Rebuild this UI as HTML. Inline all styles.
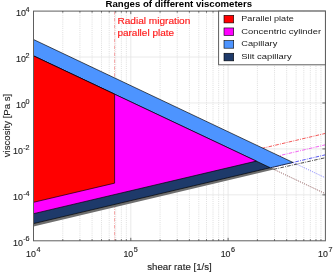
<!DOCTYPE html><html><head><meta charset="utf-8"><style>html,body{margin:0;padding:0;background:#fff}svg{display:block;will-change:transform;filter:blur(0.35px)}text{font-family:"Liberation Sans",sans-serif}</style></head><body>
<svg width="335" height="275" viewBox="0 0 335 275">
<rect width="335" height="275" fill="#fff"/>
<g stroke="#d0d0d0" stroke-width="0.8" stroke-dasharray="0.8 1.1"><line x1="62.79" y1="11.1" x2="62.79" y2="240.8"/><line x1="79.92" y1="11.1" x2="79.92" y2="240.8"/><line x1="92.08" y1="11.1" x2="92.08" y2="240.8"/><line x1="101.51" y1="11.1" x2="101.51" y2="240.8"/><line x1="109.21" y1="11.1" x2="109.21" y2="240.8"/><line x1="115.73" y1="11.1" x2="115.73" y2="240.8"/><line x1="121.37" y1="11.1" x2="121.37" y2="240.8"/><line x1="126.35" y1="11.1" x2="126.35" y2="240.8"/><line x1="160.09" y1="11.1" x2="160.09" y2="240.8"/><line x1="177.22" y1="11.1" x2="177.22" y2="240.8"/><line x1="189.38" y1="11.1" x2="189.38" y2="240.8"/><line x1="198.81" y1="11.1" x2="198.81" y2="240.8"/><line x1="206.51" y1="11.1" x2="206.51" y2="240.8"/><line x1="213.03" y1="11.1" x2="213.03" y2="240.8"/><line x1="218.67" y1="11.1" x2="218.67" y2="240.8"/><line x1="223.65" y1="11.1" x2="223.65" y2="240.8"/><line x1="257.39" y1="11.1" x2="257.39" y2="240.8"/><line x1="274.52" y1="11.1" x2="274.52" y2="240.8"/><line x1="286.68" y1="11.1" x2="286.68" y2="240.8"/><line x1="296.11" y1="11.1" x2="296.11" y2="240.8"/><line x1="303.81" y1="11.1" x2="303.81" y2="240.8"/><line x1="310.33" y1="11.1" x2="310.33" y2="240.8"/><line x1="315.97" y1="11.1" x2="315.97" y2="240.8"/><line x1="320.95" y1="11.1" x2="320.95" y2="240.8"/></g>
<g stroke="#e4e4e4" stroke-width="0.8"><line x1="130.80" y1="11.1" x2="130.80" y2="240.8"/><line x1="228.10" y1="11.1" x2="228.10" y2="240.8"/><line x1="33.5" y1="57.04" x2="325.4" y2="57.04"/><line x1="33.5" y1="102.98" x2="325.4" y2="102.98"/><line x1="33.5" y1="148.92" x2="325.4" y2="148.92"/><line x1="33.5" y1="194.86" x2="325.4" y2="194.86"/></g>
<line x1="114.6" y1="11.1" x2="114.6" y2="240.8" stroke="#f08a8a" stroke-width="0.8" stroke-dasharray="3.5 1.3 0.8 1.3"/>
<line x1="292.98" y1="162.44" x2="325.4" y2="177.80" stroke="#4040ff" stroke-opacity="0.9" stroke-width="0.85" stroke-dasharray="0.8 1.3"/>
<line x1="273.68" y1="169.30" x2="325.4" y2="193.72" stroke="#d03030" stroke-opacity="0.6" stroke-width="0.75" stroke-dasharray="0.8 1.3"/>
<line x1="273.68" y1="169.30" x2="325.4" y2="193.72" stroke="#111" stroke-opacity="0.65" stroke-width="0.75" stroke-dasharray="0.8 1.3"/>
<line x1="33.5" y1="202.3" x2="325.4" y2="133.39" stroke="#f03030" stroke-width="0.95" stroke-opacity="0.85" stroke-dasharray="3.6 1.2 0.9 1.2"/>
<line x1="33.5" y1="213.7" x2="325.4" y2="144.79" stroke="#f040f0" stroke-width="0.95" stroke-opacity="0.85" stroke-dasharray="3.6 1.2 0.9 1.2"/>
<line x1="33.5" y1="223.7" x2="325.4" y2="154.79" stroke="#3030f0" stroke-width="0.95" stroke-opacity="0.85" stroke-dasharray="3.6 1.2 0.9 1.2"/>
<polygon points="33.5,222.6 270.29,167.20 274.68,169.10 273.68,169.60 33.5,226.5" fill="#6f6f6f"/>
<line x1="273.68" y1="169.30" x2="325.4" y2="157.7" stroke="#222" stroke-width="0.95" stroke-opacity="0.85" stroke-dasharray="3.6 1.2 0.9 1.2"/>
<polygon points="33.5,55.9 270.29,167.70 33.5,223.6" fill="#1e3a6a" stroke="#000" stroke-opacity="0.95" stroke-width="0.7" stroke-linejoin="round"/>
<polygon points="33.5,39.5 292.98,162.44 270.43,167.77 33.5,55.9" fill="#4d94ff" stroke="#000" stroke-opacity="0.95" stroke-width="0.7" stroke-linejoin="round"/>
<polygon points="33.5,55.9 256.31,161.10 33.5,213.7" fill="#ff00ff" stroke="#000" stroke-opacity="0.95" stroke-width="0.7" stroke-linejoin="round"/>
<polygon points="33.5,55.9 114.6,94.19 114.6,183.15 33.5,202.3" fill="#ff0000" stroke="#000" stroke-opacity="0.95" stroke-width="0.7" stroke-linejoin="round"/>
<rect x="33.5" y="11.1" width="291.9" height="229.70000000000002" fill="none" stroke="#5e5e5e" stroke-width="1"/>
<g stroke="#444" stroke-width="0.8"><line x1="62.79" y1="240.8" x2="62.79" y2="239.20000000000002"/><line x1="62.79" y1="11.1" x2="62.79" y2="12.7"/><line x1="79.92" y1="240.8" x2="79.92" y2="239.20000000000002"/><line x1="79.92" y1="11.1" x2="79.92" y2="12.7"/><line x1="92.08" y1="240.8" x2="92.08" y2="239.20000000000002"/><line x1="92.08" y1="11.1" x2="92.08" y2="12.7"/><line x1="101.51" y1="240.8" x2="101.51" y2="239.20000000000002"/><line x1="101.51" y1="11.1" x2="101.51" y2="12.7"/><line x1="109.21" y1="240.8" x2="109.21" y2="239.20000000000002"/><line x1="109.21" y1="11.1" x2="109.21" y2="12.7"/><line x1="115.73" y1="240.8" x2="115.73" y2="239.20000000000002"/><line x1="115.73" y1="11.1" x2="115.73" y2="12.7"/><line x1="121.37" y1="240.8" x2="121.37" y2="239.20000000000002"/><line x1="121.37" y1="11.1" x2="121.37" y2="12.7"/><line x1="126.35" y1="240.8" x2="126.35" y2="239.20000000000002"/><line x1="126.35" y1="11.1" x2="126.35" y2="12.7"/><line x1="130.80" y1="240.8" x2="130.80" y2="237.8"/><line x1="130.80" y1="11.1" x2="130.80" y2="14.1"/><line x1="160.09" y1="240.8" x2="160.09" y2="239.20000000000002"/><line x1="160.09" y1="11.1" x2="160.09" y2="12.7"/><line x1="177.22" y1="240.8" x2="177.22" y2="239.20000000000002"/><line x1="177.22" y1="11.1" x2="177.22" y2="12.7"/><line x1="189.38" y1="240.8" x2="189.38" y2="239.20000000000002"/><line x1="189.38" y1="11.1" x2="189.38" y2="12.7"/><line x1="198.81" y1="240.8" x2="198.81" y2="239.20000000000002"/><line x1="198.81" y1="11.1" x2="198.81" y2="12.7"/><line x1="206.51" y1="240.8" x2="206.51" y2="239.20000000000002"/><line x1="206.51" y1="11.1" x2="206.51" y2="12.7"/><line x1="213.03" y1="240.8" x2="213.03" y2="239.20000000000002"/><line x1="213.03" y1="11.1" x2="213.03" y2="12.7"/><line x1="218.67" y1="240.8" x2="218.67" y2="239.20000000000002"/><line x1="218.67" y1="11.1" x2="218.67" y2="12.7"/><line x1="223.65" y1="240.8" x2="223.65" y2="239.20000000000002"/><line x1="223.65" y1="11.1" x2="223.65" y2="12.7"/><line x1="228.10" y1="240.8" x2="228.10" y2="237.8"/><line x1="228.10" y1="11.1" x2="228.10" y2="14.1"/><line x1="257.39" y1="240.8" x2="257.39" y2="239.20000000000002"/><line x1="257.39" y1="11.1" x2="257.39" y2="12.7"/><line x1="274.52" y1="240.8" x2="274.52" y2="239.20000000000002"/><line x1="274.52" y1="11.1" x2="274.52" y2="12.7"/><line x1="286.68" y1="240.8" x2="286.68" y2="239.20000000000002"/><line x1="286.68" y1="11.1" x2="286.68" y2="12.7"/><line x1="296.11" y1="240.8" x2="296.11" y2="239.20000000000002"/><line x1="296.11" y1="11.1" x2="296.11" y2="12.7"/><line x1="303.81" y1="240.8" x2="303.81" y2="239.20000000000002"/><line x1="303.81" y1="11.1" x2="303.81" y2="12.7"/><line x1="310.33" y1="240.8" x2="310.33" y2="239.20000000000002"/><line x1="310.33" y1="11.1" x2="310.33" y2="12.7"/><line x1="315.97" y1="240.8" x2="315.97" y2="239.20000000000002"/><line x1="315.97" y1="11.1" x2="315.97" y2="12.7"/><line x1="320.95" y1="240.8" x2="320.95" y2="239.20000000000002"/><line x1="320.95" y1="11.1" x2="320.95" y2="12.7"/><line x1="325.4" y1="102.98" x2="322.4" y2="102.98"/><line x1="325.4" y1="148.92" x2="322.4" y2="148.92"/><line x1="325.4" y1="194.86" x2="322.4" y2="194.86"/></g>
<rect x="218.6" y="11.1" width="106.8" height="53.7" fill="#fff" stroke="#585858" stroke-width="0.95"/>
<rect x="224.0" y="15.30" width="9.7" height="7.6" fill="#ff0000" stroke="#000" stroke-width="0.6"/>
<text transform="translate(241.30,21.10) rotate(0.02) scale(1.1774,1)" font-size="7.7" text-anchor="start" fill="#1a1a1a">Parallel plate</text>
<rect x="224.0" y="27.95" width="9.7" height="7.6" fill="#ff00ff" stroke="#000" stroke-width="0.6"/>
<text transform="translate(241.30,33.67) rotate(0.02) scale(1.2216,1)" font-size="7.7" text-anchor="start" fill="#1a1a1a">Concentric cylinder</text>
<rect x="224.0" y="40.60" width="9.7" height="7.6" fill="#4d94ff" stroke="#000" stroke-width="0.6"/>
<text transform="translate(241.30,46.24) rotate(0.02) scale(1.2019,1)" font-size="7.7" text-anchor="start" fill="#1a1a1a">Capillary</text>
<rect x="224.0" y="53.25" width="9.7" height="7.6" fill="#1e3a6a" stroke="#000" stroke-width="0.6"/>
<text transform="translate(241.30,58.81) rotate(0.02) scale(1.2267,1)" font-size="7.7" text-anchor="start" fill="#1a1a1a">Slit capillary</text>
<text transform="translate(178.80,6.70) rotate(0.02)" font-size="9.65" text-anchor="middle" font-weight="bold" fill="#000">Ranges of different viscometers</text>
<text transform="translate(117.40,24.40) rotate(0.02) scale(1.1478,1)" font-size="8.8" text-anchor="start" fill="#ff1a1a" stroke="#ff1a1a" stroke-width="0.15">Radial migration</text>
<text transform="translate(117.40,36.30) rotate(0.02) scale(1.1380,1)" font-size="8.8" text-anchor="start" fill="#ff1a1a" stroke="#ff1a1a" stroke-width="0.15">parallel plate</text>
<text transform="translate(29.60,11.80) rotate(0.02)" font-size="7.2" text-anchor="end" fill="#262626" stroke="#262626" stroke-width="0.15">4</text>
<text transform="translate(25.90,16.10) rotate(0.02) scale(0.9700,1)" font-size="9.2" text-anchor="end" fill="#262626" stroke="#262626" stroke-width="0.15">10</text>
<text transform="translate(29.60,57.74) rotate(0.02)" font-size="7.2" text-anchor="end" fill="#262626" stroke="#262626" stroke-width="0.15">2</text>
<text transform="translate(25.90,62.04) rotate(0.02) scale(0.9700,1)" font-size="9.2" text-anchor="end" fill="#262626" stroke="#262626" stroke-width="0.15">10</text>
<text transform="translate(29.60,103.68) rotate(0.02)" font-size="7.2" text-anchor="end" fill="#262626" stroke="#262626" stroke-width="0.15">0</text>
<text transform="translate(25.90,107.98) rotate(0.02) scale(0.9700,1)" font-size="9.2" text-anchor="end" fill="#262626" stroke="#262626" stroke-width="0.15">10</text>
<text transform="translate(29.60,149.62) rotate(0.02)" font-size="7.2" text-anchor="end" fill="#262626" stroke="#262626" stroke-width="0.15">-2</text>
<text transform="translate(22.90,153.92) rotate(0.02) scale(0.9700,1)" font-size="9.2" text-anchor="end" fill="#262626" stroke="#262626" stroke-width="0.15">10</text>
<text transform="translate(29.60,195.56) rotate(0.02)" font-size="7.2" text-anchor="end" fill="#262626" stroke="#262626" stroke-width="0.15">-4</text>
<text transform="translate(22.90,199.86) rotate(0.02) scale(0.9700,1)" font-size="9.2" text-anchor="end" fill="#262626" stroke="#262626" stroke-width="0.15">10</text>
<text transform="translate(29.60,241.50) rotate(0.02)" font-size="7.2" text-anchor="end" fill="#262626" stroke="#262626" stroke-width="0.15">-6</text>
<text transform="translate(22.90,245.80) rotate(0.02) scale(0.9700,1)" font-size="9.2" text-anchor="end" fill="#262626" stroke="#262626" stroke-width="0.15">10</text>
<text transform="translate(35.90,256.80) rotate(0.02) scale(0.9600,1)" font-size="9.2" text-anchor="end" fill="#262626" stroke="#262626" stroke-width="0.15">10</text>
<text transform="translate(36.50,252.40) rotate(0.02)" font-size="7.2" text-anchor="start" fill="#262626" stroke="#262626" stroke-width="0.15">4</text>
<text transform="translate(133.20,256.80) rotate(0.02) scale(0.9600,1)" font-size="9.2" text-anchor="end" fill="#262626" stroke="#262626" stroke-width="0.15">10</text>
<text transform="translate(133.80,252.40) rotate(0.02)" font-size="7.2" text-anchor="start" fill="#262626" stroke="#262626" stroke-width="0.15">5</text>
<text transform="translate(230.50,256.80) rotate(0.02) scale(0.9600,1)" font-size="9.2" text-anchor="end" fill="#262626" stroke="#262626" stroke-width="0.15">10</text>
<text transform="translate(231.10,252.40) rotate(0.02)" font-size="7.2" text-anchor="start" fill="#262626" stroke="#262626" stroke-width="0.15">6</text>
<text transform="translate(327.80,256.80) rotate(0.02) scale(0.9600,1)" font-size="9.2" text-anchor="end" fill="#262626" stroke="#262626" stroke-width="0.15">10</text>
<text transform="translate(328.40,252.40) rotate(0.02)" font-size="7.2" text-anchor="start" fill="#262626" stroke="#262626" stroke-width="0.15">7</text>
<text transform="translate(179.50,269.90) rotate(0.02)" font-size="9.7" text-anchor="middle" fill="#262626" stroke="#262626" stroke-width="0.15">shear rate [1/s]</text>
<text transform="translate(10.00,125.50) rotate(-90.02)" font-size="9.6" text-anchor="middle" fill="#262626" stroke="#262626" stroke-width="0.15">viscosity [Pa s]</text>
</svg></body></html>
